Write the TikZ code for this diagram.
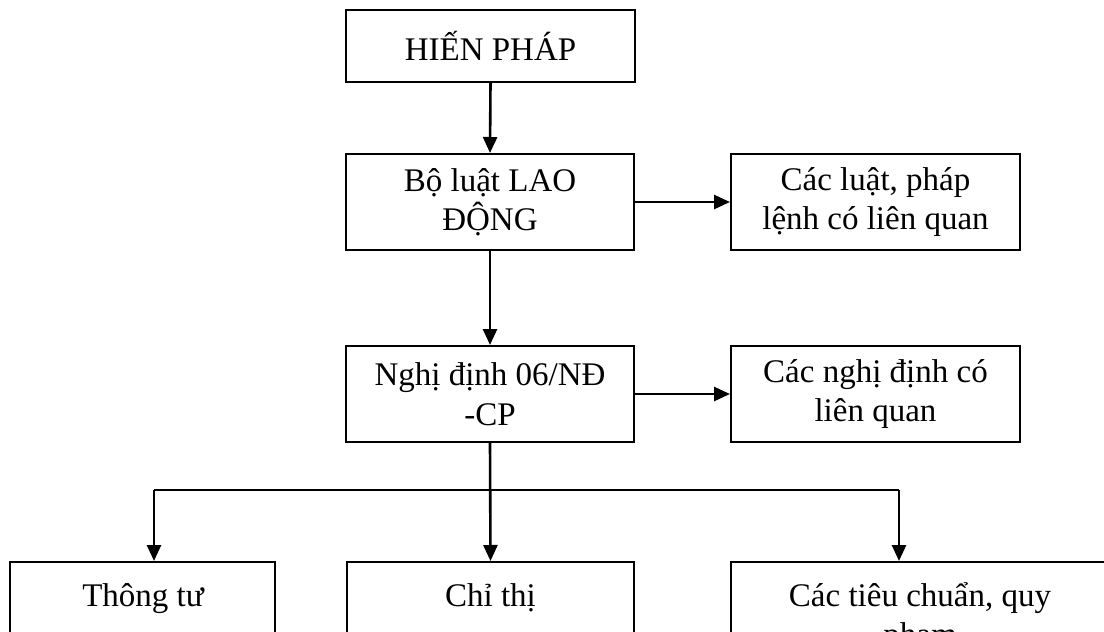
\documentclass[tikz,border=0pt]{standalone}
\usepackage{fontspec}
\setmainfont{Liberation Serif}
\usetikzlibrary{arrows.meta}
\begin{document}
\begin{tikzpicture}[x=1pt,y=-1pt,
  box/.style={draw, line width=2pt, align=center, inner sep=0pt, font=\fontsize{33}{39.5}\selectfont},
  txt/.style={inner sep=0pt, font=\fontsize{33}{39.5}\selectfont, anchor=base, align=center},
  conn/.style={line width=2.6pt, -{Triangle[length=16pt,width=14pt]}},
  plainline/.style={line width=2.6pt}]
\path[use as bounding box, clip] (0,0) rectangle (1104,632);
\fill[white] (0,0) rectangle (1104,632);
% main column
\node[box, minimum width=289pt, minimum height=72pt] (hp) at (490.5,46) {HIẾN PHÁP};
\node[box, minimum width=288pt, minimum height=96pt] (bl) at (490,202) {Bộ luật LAO\\ĐỘNG};
\node[box, minimum width=289pt, minimum height=96pt] (cl) at (875.5,202) {Các luật, pháp\\lệnh có liên quan};
\node[box, minimum width=288pt, minimum height=96pt] (nd) at (490,394) {Nghị định 06/NĐ\\-CP};
\node[box, minimum width=289pt, minimum height=96pt] (cn) at (875.5,394) {Các nghị định có\\liên quan};
% bottom row (boxes run past the lower edge)
\node[box, minimum width=265pt, minimum height=120pt, anchor=north] (tt) at (142.5,561) {};
\node[box, minimum width=287pt, minimum height=120pt, anchor=north] (ct) at (490.5,561) {};
\node[box, minimum width=378pt, minimum height=120pt, anchor=north] (tc) at (920,561) {};
\node[txt] (ttt) at (143,606) {Thông tư};
\node[txt] (ctt) at (490.5,606) {Chỉ thị};
\node[txt] (tct) at (920,645.5) {Các tiêu chuẩn, quy\\phạm};
% connectors
\draw[conn] (hp.south) -- (bl.north);
\draw[conn] (bl.east) -- (cl.west);
\draw[conn] (bl.south) -- (nd.north);
\draw[conn] (nd.east) -- (cn.west);
\coordinate (jl) at (154,490);
\coordinate (jr) at (899,490);
\draw[conn] (nd.south) -- (ct.north);
\draw[plainline] (jl) -- (jr);
\draw[conn] (jl) -- (jl |- tt.north);
\draw[conn] (jr) -- (jr |- tc.north);
\end{tikzpicture}
\end{document}
